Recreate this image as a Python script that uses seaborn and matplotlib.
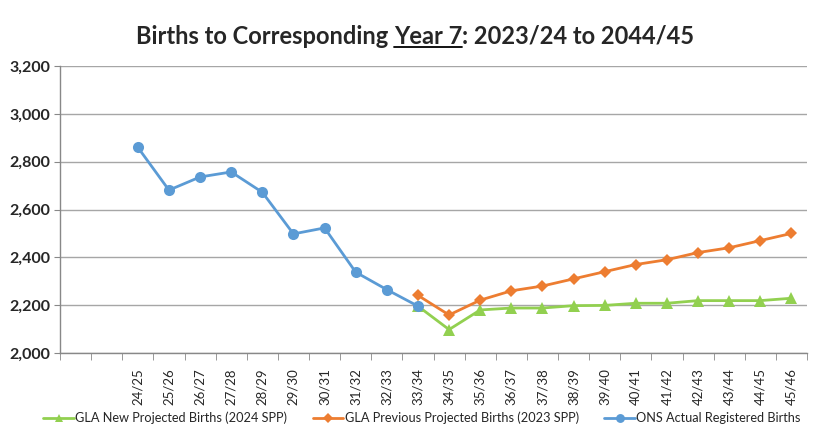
import numpy as np
import pandas as pd
import matplotlib
matplotlib.use("Agg")
import matplotlib.pyplot as plt
import seaborn as sns

# category labels (first two slots are blank in the original)
years = ["", "", "24/25", "25/26", "26/27", "27/28", "28/29", "29/30", "30/31",
         "31/32", "32/33", "33/34", "34/35", "35/36", "36/37", "37/38", "38/39",
         "39/40", "40/41", "41/42", "42/43", "43/44", "44/45", "45/46"]

ons_actual = [np.nan, np.nan, 2860, 2681, 2736, 2757, 2672, 2498, 2523, 2338, 2265, 2196] + [np.nan] * 12
gla_prev = [np.nan] * 11 + [2241, 2159, 2221, 2260, 2280, 2310, 2340, 2370, 2390, 2420, 2440, 2470, 2500]
gla_new = [np.nan] * 11 + [2196, 2098, 2180, 2188, 2188, 2198, 2199, 2208, 2208, 2219, 2219, 2219, 2229]

s_new = "GLA New Projected Births (2024 SPP)"
s_prev = "GLA Previous Projected Births (2023 SPP)"
s_ons = "ONS Actual Registered Births"

pos = np.arange(len(years))
df = pd.concat([
    pd.DataFrame({"pos": pos, "births": gla_new, "series": s_new}),
    pd.DataFrame({"pos": pos, "births": gla_prev, "series": s_prev}),
    pd.DataFrame({"pos": pos, "births": ons_actual, "series": s_ons}),
]).dropna()

sns.set_style("white")
plt.rcParams["font.family"] = ["Lato", "DejaVu Sans"]

fig = plt.figure(figsize=(8.14, 4.41), dpi=100)
ax = fig.add_axes([60 / 814, 88 / 441, 747 / 814, 287 / 441])

palette = {s_new: "#92D050", s_prev: "#ED7D31", s_ons: "#5B9BD5"}
markers = {s_new: "^", s_prev: "D", s_ons: "o"}
sizes = {s_new: 8, s_prev: 6, s_ons: 8}

for s in [s_new, s_prev, s_ons]:
    sns.lineplot(data=df[df.series == s], x="pos", y="births", color=palette[s],
                 marker=markers[s], markersize=sizes[s], markeredgewidth=0,
                 linewidth=2, label=s, ax=ax)

ax.set_ylim(2000, 3200)
ax.set_yticks(range(2000, 3201, 200))
ax.set_yticklabels([f"{v:,}" for v in range(2000, 3201, 200)], fontsize=11.5, fontweight="bold")
ax.yaxis.grid(True, color="#A6A6A6", linewidth=1)
ax.tick_params(axis="y", length=4, color="#888888", direction="out", left=True, pad=3)

ax.set_xlim(-0.5, len(years) - 0.5)
ax.set_xticks(pos)
ax.set_xticklabels(years, rotation=90, fontsize=9.5)
ax.set_xticks(np.arange(-0.5, len(years), 1), minor=True)
ax.tick_params(axis="x", which="major", length=0, pad=11)
ax.tick_params(axis="x", which="minor", length=5, color="#888888", direction="out", bottom=True)
ax.set_xlabel("")
ax.set_ylabel("")

for sp in ["top", "right"]:
    ax.spines[sp].set_visible(False)
for sp in ["left", "bottom"]:
    ax.spines[sp].set_color("#888888")
    ax.spines[sp].set_linewidth(1)

handles, labels = ax.get_legend_handles_labels()
fig.legend(handles, labels, loc="center", bbox_to_anchor=(422 / 814, 1 - 418 / 441),
           ncol=3, frameon=False, fontsize=9.2, handlelength=2.4, columnspacing=2.0,
           handletextpad=0.1, markerscale=0.8)
ax.get_legend().remove()

# title with underlined "Year 7"
renderer = fig.canvas.get_renderer()
parts = ["Births to Corresponding ", "Year 7", ": 2023/24 to 2044/45"]
tkw = dict(fontsize=17, fontweight="bold", va="baseline", ha="left")
texts = [fig.text(0, 0, p, **tkw) for p in parts]
widths = [t.get_window_extent(renderer).width for t in texts]
total = sum(widths)
x = (415 - total / 2)
ybase = 441 - 44
for t, w in zip(texts, widths):
    t.set_position((x / 814, ybase / 441))
    x += w
ux0 = (415 - total / 2 + widths[0]) / 814
ux1 = (415 - total / 2 + widths[0] + widths[1]) / 814
fig.add_artist(plt.Line2D([ux0, ux1], [(ybase - 3) / 441] * 2, color="black", linewidth=1.3))

fig.savefig("out.png", dpi=100)
